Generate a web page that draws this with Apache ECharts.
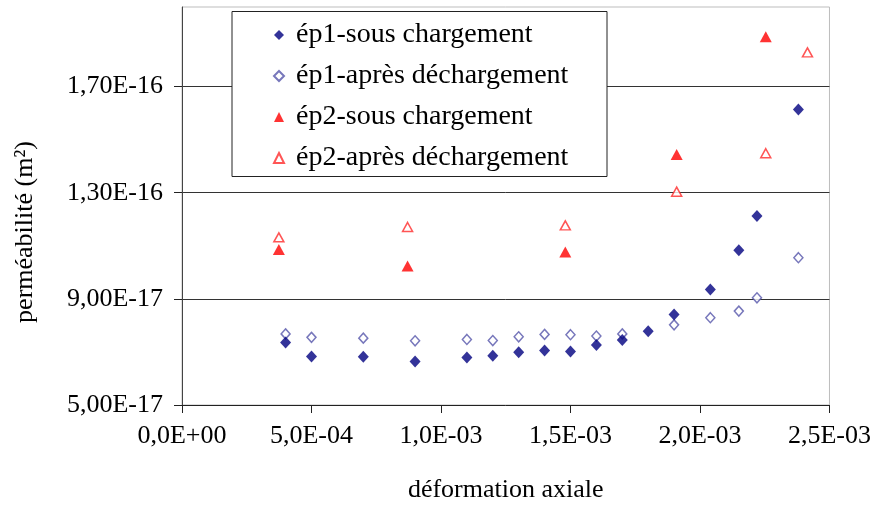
<!DOCTYPE html>
<html>
<head>
<meta charset="utf-8">
<script src="https://cdn.jsdelivr.net/npm/echarts@6/dist/echarts.min.js"></script>
<style>
html,body{margin:0;padding:0;background:#fff;}
#chart{width:874px;height:508px;}
</style>
</head>
<body>
<div id="chart"></div>
<script>
// Axial strain (x) values
const ep1SousX   = [4.0e-4, 5.0e-4, 7.0e-4, 9.0e-4, 1.10e-3, 1.20e-3, 1.30e-3, 1.40e-3, 1.50e-3, 1.60e-3, 1.70e-3, 1.80e-3, 1.90e-3, 2.04e-3, 2.15e-3, 2.22e-3, 2.38e-3];
// Permeability, in units of 1E-17 m²
const ep1SousY   = [7.36, 6.83, 6.82, 6.64, 6.79, 6.86, 6.99, 7.05, 7.02, 7.26, 7.45, 7.78, 8.41, 9.35, 10.83, 12.12, 16.14];

const ep1ApresX  = [4.0e-4, 5.0e-4, 7.0e-4, 9.0e-4, 1.10e-3, 1.20e-3, 1.30e-3, 1.40e-3, 1.50e-3, 1.60e-3, 1.70e-3, 1.90e-3, 2.04e-3, 2.15e-3, 2.22e-3, 2.38e-3];
const ep1ApresY  = [7.68, 7.55, 7.52, 7.42, 7.47, 7.43, 7.57, 7.66, 7.65, 7.60, 7.68, 8.02, 8.29, 8.54, 9.04, 10.55];

const ep2SousX   = [3.74e-4, 8.71e-4, 1.48e-3, 1.91e-3, 2.254e-3];
const ep2SousY   = [10.86, 10.24, 10.77, 14.44, 18.88];

const ep2ApresX  = [3.74e-4, 8.71e-4, 1.48e-3, 1.91e-3, 2.254e-3, 2.415e-3];
const ep2ApresY  = [11.32, 11.71, 11.77, 13.04, 14.49, 18.29];

const seriesNames = ['ép1-sous chargement', 'ép1-après déchargement', 'ép2-sous chargement', 'ép2-après déchargement'];
const xTickLabels = ['0,0E+00', '5,0E-04', '1,0E-03', '1,5E-03', '2,0E-03', '2,5E-03'];
const yTickValues = [5, 9, 13, 17];
const yTickLabels = ['5,00E-17', '9,00E-17', '1,30E-16', '1,70E-16'];
const xAxisTitle = 'déformation axiale';
const yAxisTitle = 'perméabilité (m²)';

function pairs(xs, ys) { return xs.map((x, i) => [x, ys[i]]); }

const FONT = 'Liberation Serif';
const chart = echarts.init(document.getElementById('chart'), null, {renderer: 'canvas'});

chart.setOption({
  animation: false,
  backgroundColor: '#fff',
  grid: {left: 182, top: 7, right: 41, bottom: 99, show: true, borderColor: '#bdbdbd', borderWidth: 1, backgroundColor: 'transparent'},
  xAxis: {
    type: 'value', min: 0, max: 0.0025, interval: 0.0005,
    name: xAxisTitle, nameLocation: 'middle', nameGap: 72,
    nameTextStyle: {fontFamily: FONT, fontSize: 26, color: '#000'},
    axisLine: {show: true, lineStyle: {color: '#222', width: 1}},
    axisTick: {show: true, inside: false, length: 8, lineStyle: {color: '#222'}},
    axisLabel: {fontFamily: FONT, fontSize: 26, color: '#000', margin: 18,
      formatter: v => { const i = Math.round(v / 0.0005); return xTickLabels[i] || ''; }},
    splitLine: {show: false}
  },
  yAxis: {
    type: 'value', min: 5, max: 20, interval: 4,
    axisLine: {show: true, lineStyle: {color: '#444', width: 1}},
    axisTick: {show: true, inside: false, length: 8, lineStyle: {color: '#222'}, customValues: yTickValues},
    axisLabel: {fontFamily: FONT, fontSize: 26, color: '#000', margin: 19, customValues: yTickValues,
      formatter: v => { const i = yTickValues.indexOf(Math.round(v)); return (i >= 0 && Math.abs(v - yTickValues[i]) < 1e-6) ? yTickLabels[i] : ''; }},
    splitLine: {show: true, showMinLine: false, showMaxLine: true, lineStyle: {color: '#333', width: 1}}
  },
  legend: {
    orient: 'vertical', left: 273, top: 21, padding: 0,
    itemWidth: 10, itemHeight: 10, itemGap: 13,
    data: seriesNames,
    textStyle: {fontFamily: FONT, fontSize: 28, lineHeight: 28, color: '#000', padding: [0, 0, 0, 7]}
  },
  graphic: [
    {type: 'rect', z: 3, shape: {x: 232, y: 11.5, width: 375, height: 165},
     style: {fill: '#fff', stroke: '#222', lineWidth: 1}},
    {type: 'text', x: 25, y: 232, rotation: Math.PI / 2, z: 5,
     style: {text: yAxisTitle, font: '26px "Liberation Serif"', fill: '#000', align: 'center', verticalAlign: 'middle'}}
  ],
  series: [
    {name: seriesNames[0], type: 'scatter', symbol: 'diamond', symbolSize: [11, 12],
     itemStyle: {color: '#000080'}, data: pairs(ep1SousX, ep1SousY), z: 3},
    {name: seriesNames[1], type: 'scatter', symbol: 'diamond', symbolSize: [9, 10],
     itemStyle: {color: '#fff', borderColor: '#5555aa', borderWidth: 1.5}, data: pairs(ep1ApresX, ep1ApresY), z: 2},
    {name: seriesNames[2], type: 'scatter', symbol: 'triangle', symbolSize: [12, 11],
     itemStyle: {color: '#ff0000'}, data: pairs(ep2SousX, ep2SousY), z: 3},
    {name: seriesNames[3], type: 'scatter', symbol: 'triangle', symbolSize: [10, 9],
     itemStyle: {color: '#fff', borderColor: '#ff2a2a', borderWidth: 1.5}, data: pairs(ep2ApresX, ep2ApresY), z: 2}
  ]
});
</script>
</body>
</html>
